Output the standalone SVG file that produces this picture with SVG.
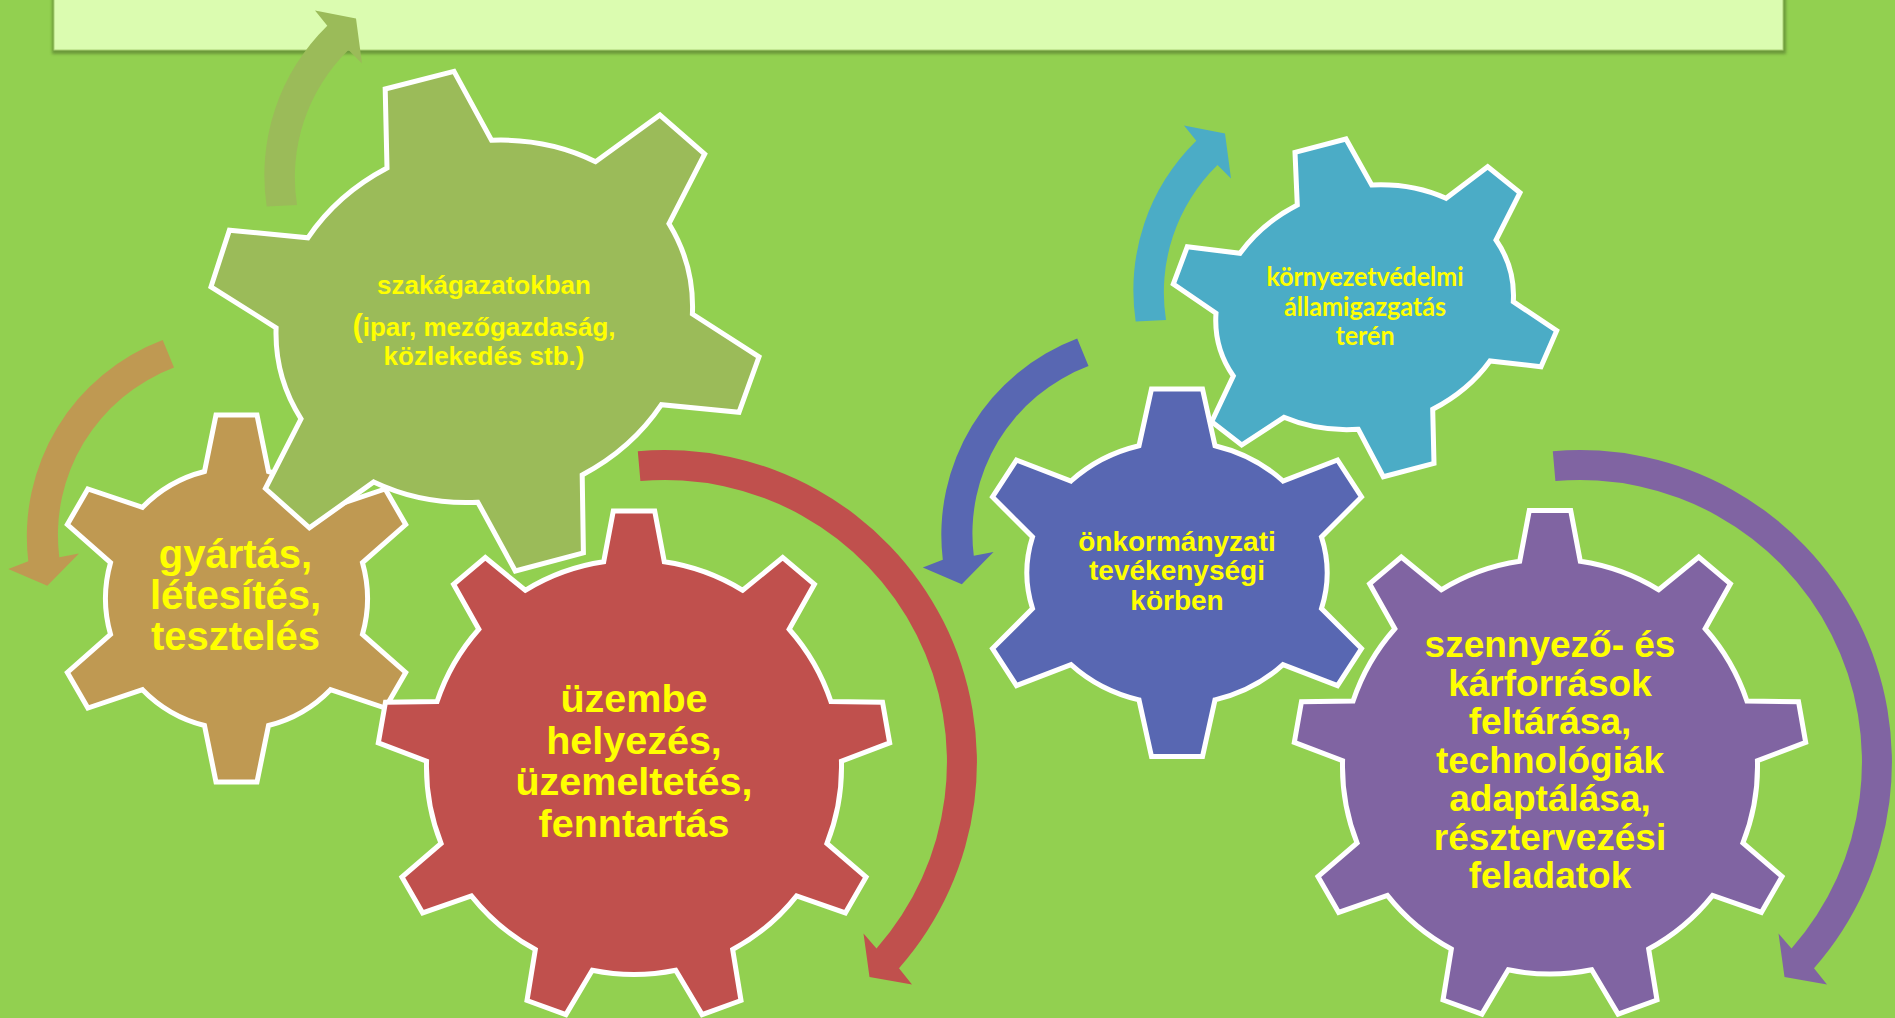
<svg xmlns="http://www.w3.org/2000/svg" xmlns:xlink="http://www.w3.org/1999/xlink" width="1895" height="1018" viewBox="0 0 1895 1018">
<defs>
<style>
.gear{stroke:#ffffff;stroke-width:5;stroke-linejoin:miter}
.t{font-family:"Liberation Sans",Arial,sans-serif;font-weight:bold;fill:#ffff00;text-anchor:middle}
.tc{font-family:Lato,"Open Sans",sans-serif;font-weight:bold;fill:#ffff00;text-anchor:middle}
</style>
<filter id="sh" x="-5%" y="-50%" width="110%" height="200%"><feGaussianBlur stdDeviation="1.5"/></filter>
<path id="gear9" class="gear" d="M -30.3 -205.3 L -20.7 -256 L 20.7 -256 L 30.3 -205.3 A 207.5 207.5 0 0 1 108.76 -176.74 L 148.7 -209.41 L 180.42 -182.79 L 155.18 -137.78 A 207.5 207.5 0 0 1 196.92 -65.48 L 248.52 -64.83 L 255.7 -24.05 L 207.44 -5.8 A 207.5 207.5 0 0 1 192.94 76.41 L 232.05 110.07 L 211.35 145.93 L 162.64 128.89 A 207.5 207.5 0 0 1 98.68 182.56 L 107 233.48 L 68.1 247.64 L 41.74 203.28 A 207.5 207.5 0 0 1 -41.74 203.28 L -68.1 247.64 L -107 233.48 L -98.68 182.56 A 207.5 207.5 0 0 1 -162.64 128.89 L -211.35 145.93 L -232.05 110.07 L -192.94 76.41 A 207.5 207.5 0 0 1 -207.44 -5.8 L -255.7 -24.05 L -248.52 -64.83 L -196.92 -65.48 A 207.5 207.5 0 0 1 -155.18 -137.78 L -180.42 -182.79 L -148.7 -209.41 L -108.76 -176.74 A 207.5 207.5 0 0 1 -30.3 -205.3 Z"/>
<path id="arrowUp" d="M 266.7 206.4 A 209 209 0 0 1 327.3 25.7 L 315 10.5 L 356 18.5 L 362 63.5 L 348.5 50 A 178 178 0 0 0 297 205 Z"/>
<path id="arrowDown" d="M 162.7 340 A 210 210 0 0 0 28.3 561.3 L 8.3 569 L 47.3 585.8 L 79 553.4 L 59.3 557.3 A 179 179 0 0 1 174 367.6 Z"/>
<path id="arrowBig" d="M 637.8 451.2 A 312 312 0 0 1 899 968.3 L 912 984.5 L 869.5 977 L 863.5 933.5 L 876.5 948.5 A 282 282 0 0 0 640.4 481.1 Z"/>
</defs>
<rect x="0" y="0" width="1895" height="1018" fill="#92d050"/>
<g id="title">
<rect x="52" y="-10" width="1734" height="64" fill="#5f8530" opacity="0.75" filter="url(#sh)"/>
<rect x="54" y="-10" width="1729" height="60" fill="#dbfcb0" stroke="#a9d174" stroke-width="1"/>
</g>
<g id="connectors">
<use xlink:href="#arrowUp" fill="#9bbb59"/>
<use xlink:href="#arrowDown" fill="#bf9952"/>
<use xlink:href="#arrowBig" fill="#c0504d"/>
<use xlink:href="#arrowUp" transform="translate(869,115)" fill="#4bacc6"/>
<use xlink:href="#arrowDown" transform="translate(914.5,-1.5)" fill="#5867b2"/>
<use xlink:href="#arrowBig" transform="translate(915,0)" fill="#8064a2"/>
</g>
<g id="gear-gyartas">
<path class="gear" fill="#bf9952" d="M 204.5 471.5 L 216 415 L 257 415 L 268.5 471.5 A 131 131 0 0 1 330.5 507.3 L 385.2 489 L 405.7 524.5 L 362.5 562.7 A 131 131 0 0 1 362.5 634.3 L 405.7 672.5 L 385.2 708 L 330.5 689.7 A 131 131 0 0 1 268.5 725.5 L 257 782 L 216 782 L 204.5 725.5 A 131 131 0 0 1 142.5 689.7 L 87.85 708 L 67.35 672.5 L 110.5 634.3 A 131 131 0 0 1 110.5 562.7 L 67.35 524.5 L 87.85 489 L 142.5 507.3 A 131 131 0 0 1 204.5 471.5 Z"/>
<text class="t" font-size="40" x="235.5" y="568">gyártás,</text>
<text class="t" font-size="40" x="235.5" y="609">létesítés,</text>
<text class="t" font-size="40" x="235.5" y="650">tesztelés</text>
</g>
<g id="gear-szakagazatok">
<path class="gear" fill="#9bbb59" d="M 387 168 L 385.2 89 L 454 71.4 L 491.5 140.3 A 208 181 -15 0 1 595.6 161.7 L 659.9 115 L 704.7 154 L 669 223.7 A 208 181 -15 0 1 692.4 314 L 759 356.8 L 739 412.3 L 661.4 404.7 A 208 181 -15 0 1 582.2 475 L 583.4 552.8 L 515.3 571 L 477.8 502.2 A 208 181 -15 0 1 373.7 482 L 309.4 527.9 L 265.4 488.5 L 301 418.8 A 208 181 -15 0 1 276.1 327.8 L 211 286.8 L 229.4 230.2 L 307.9 237.8 A 208 181 -15 0 1 387 168 Z"/>
<text class="t" font-size="26" x="484" y="294">szakágazatokban</text>
<text class="t" font-size="26" x="484" y="335.5"><tspan font-size="31">(</tspan>ipar, mezőgazdaság,</text>
<text class="t" font-size="26" x="484" y="364.5">közlekedés stb.)</text>
</g>
<g id="gear-uzembe">
<use xlink:href="#gear9" transform="translate(634,767)" fill="#c0504d"/>
<text class="t" font-size="39.5" x="634" y="712">üzembe</text>
<text class="t" font-size="39.5" x="634" y="753.5">helyezés,</text>
<text class="t" font-size="39.5" x="634" y="795">üzemeltetés,</text>
<text class="t" font-size="39.5" x="634" y="836.5">fenntartás</text>
</g>
<g id="gear-kornyezetvedelmi">
<path class="gear" fill="#4bacc6" d="M 1297.3 205 L 1295 152.3 L 1346 139 L 1371.7 185 A 150.6 120.1 -15 0 1 1446 198.3 L 1487.7 166.7 L 1520 192.7 L 1496 240 A 150.6 120.1 -15 0 1 1513.3 301.7 L 1556.7 330.7 L 1541 366.7 L 1490 361 A 150.6 120.1 -15 0 1 1432.7 409.3 L 1434 463.3 L 1383.3 476.7 L 1358.3 429.3 A 150.6 120.1 -15 0 1 1284 417.3 L 1241.7 445 L 1211.7 421.7 L 1233.3 376 A 150.6 120.1 -15 0 1 1216 313.3 L 1173.3 284 L 1187.3 246.7 L 1240 253.3 A 150.6 120.1 -15 0 1 1297.3 205 Z"/>
<text class="tc" font-size="26.5" x="1365" y="286" textLength="197" lengthAdjust="spacingAndGlyphs">környezetvédelmi</text>
<text class="tc" font-size="26.5" x="1365" y="315.5" textLength="162" lengthAdjust="spacingAndGlyphs">államigazgatás</text>
<text class="tc" font-size="26.5" x="1365" y="345" textLength="59" lengthAdjust="spacingAndGlyphs">terén</text>
</g>
<g id="gear-onkormanyzati">
<path class="gear" fill="#5867b2" d="M 1139 445.7 L 1151.5 389 L 1202.5 389 L 1215 445.7 A 149 131.7 0 0 1 1283 481 L 1337.5 460 L 1361.5 497 L 1321.5 537 A 149 131.7 0 0 1 1321.5 608.6 L 1361.5 648.6 L 1337.5 685.6 L 1283 664.6 A 149 131.7 0 0 1 1215 699.9 L 1202.5 756.6 L 1151.5 756.6 L 1139 699.9 A 149 131.7 0 0 1 1071 664.6 L 1016.5 685.6 L 992.5 648.6 L 1032.5 608.6 A 149 131.7 0 0 1 1032.5 537 L 992.5 497 L 1016.5 460 L 1071 481 A 149 131.7 0 0 1 1139 445.7 Z"/>
<text class="t" font-size="28" x="1177" y="551">önkormányzati</text>
<text class="t" font-size="28" x="1177" y="580">tevékenységi</text>
<text class="t" font-size="28" x="1177" y="609.5">körben</text>
</g>
<g id="gear-szennyezo">
<use xlink:href="#gear9" transform="translate(1550,766.5)" fill="#8064a2"/>
<text class="t" font-size="37" x="1550" y="657">szennyező- és</text>
<text class="t" font-size="37" x="1550" y="695.5">kárforrások</text>
<text class="t" font-size="37" x="1550" y="734">feltárása,</text>
<text class="t" font-size="37" x="1550" y="772.5">technológiák</text>
<text class="t" font-size="37" x="1550" y="811">adaptálása,</text>
<text class="t" font-size="37" x="1550" y="849.5">résztervezési</text>
<text class="t" font-size="37" x="1550" y="888">feladatok</text>
</g>
</svg>
